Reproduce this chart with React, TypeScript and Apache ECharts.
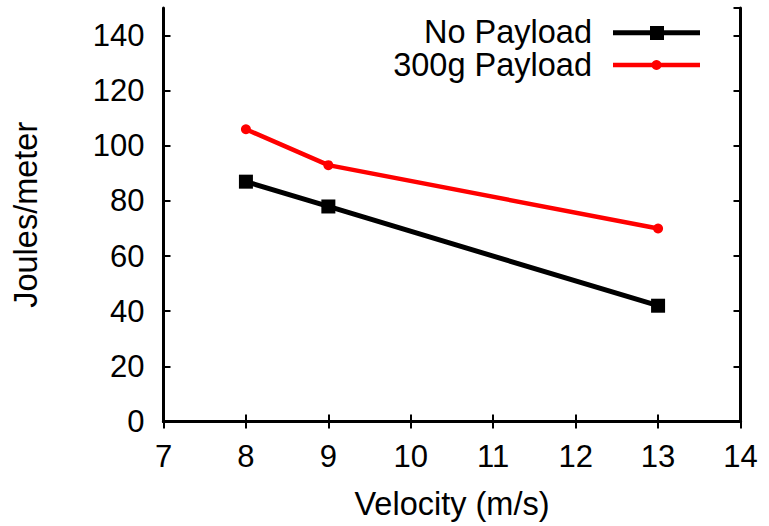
import React, { useEffect, useRef } from "react";
import * as echarts from "echarts";

const velocities = [8, 9, 13];
const noPayload = [87, 78, 42];
const payload300g = [106, 93, 70];
const seriesNames = ["No Payload", "300g Payload"];
const xTitle = "Velocity (m/s)";
const yTitle = "Joules/meter";

const FONT = "'Liberation Sans', Arial, sans-serif";

export default function App() {
  const ref = useRef<HTMLDivElement>(null);
  useEffect(() => {
    if (!ref.current) return;
    const chart = echarts.init(ref.current, undefined, { renderer: "svg" });
    const axisCommon = {
      type: "value" as const,
      axisLine: { show: true, lineStyle: { color: "#000", width: 3 } },
      axisTick: { show: true, inside: true, length: 7, lineStyle: { color: "#000", width: 2 } },
      splitLine: { show: false },
    };
    const labelStyle = { color: "#000", fontSize: 31, fontFamily: FONT };
    chart.setOption({
      animation: false,
      backgroundColor: "#fff",
      grid: { left: 163.5, right: 28.5, top: 8, bottom: 104.5, containLabel: false },
      xAxis: [
        {
          ...axisCommon,
          position: "bottom",
          min: 7,
          max: 14,
          interval: 1,
          axisLabel: { ...labelStyle, margin: 19 },
          name: xTitle,
          nameLocation: "middle",
          nameGap: 66,
          nameTextStyle: { color: "#000", fontSize: 32.5, fontFamily: FONT },
        },
        {
          ...axisCommon,
          position: "top",
          min: 7,
          max: 14,
          interval: 1,
          axisLabel: { show: false },
        },
      ],
      yAxis: [
        {
          ...axisCommon,
          position: "left",
          min: 0,
          max: 150,
          interval: 20,
          axisLabel: {
            ...labelStyle,
            margin: 19,
            showMaxLabel: false,
            formatter: (v: number) => (v > 140 ? "" : String(v)),
          },
          name: yTitle,
          nameLocation: "middle",
          nameGap: 121,
          nameRotate: 90,
          nameTextStyle: { color: "#000", fontSize: 32.5, fontFamily: FONT },
        },
        {
          ...axisCommon,
          position: "right",
          min: 0,
          max: 150,
          interval: 20,
          axisLabel: { show: false },
        },
      ],
      series: [
        {
          name: seriesNames[0],
          type: "line",
          data: velocities.map((v, i) => [v, noPayload[i]]),
          symbol: "rect",
          symbolSize: 14,
          lineStyle: { color: "#000", width: 5 },
          itemStyle: { color: "#000" },
          z: 3,
        },
        {
          name: seriesNames[1],
          type: "line",
          data: velocities.map((v, i) => [v, payload300g[i]]),
          symbol: "circle",
          symbolSize: 10,
          lineStyle: { color: "#ff0000", width: 4.5 },
          itemStyle: { color: "#ff0000" },
          z: 3,
        },
      ],
      graphic: [
        {
          type: "text",
          x: 592,
          y: 32,
          style: { text: seriesNames[0], fill: "#000", fontSize: 32.5, fontFamily: FONT, textAlign: "right", textVerticalAlign: "middle" },
        },
        { type: "line", shape: { x1: 613, y1: 32.7, x2: 700, y2: 32.7 }, style: { stroke: "#000", lineWidth: 5 } },
        { type: "rect", shape: { x: 650, y: 26, width: 14, height: 14 }, style: { fill: "#000" } },
        {
          type: "text",
          x: 592,
          y: 65,
          style: { text: seriesNames[1], fill: "#000", fontSize: 32.5, fontFamily: FONT, textAlign: "right", textVerticalAlign: "middle" },
        },
        { type: "line", shape: { x1: 613, y1: 65, x2: 700, y2: 65 }, style: { stroke: "#ff0000", lineWidth: 4.5 } },
        { type: "circle", shape: { cx: 656.5, cy: 65, r: 5 }, style: { fill: "#ff0000" } },
      ],
    });
    return () => chart.dispose();
  }, []);
  return <div ref={ref} style={{ width: 769, height: 526, position: "absolute", left: 0, top: 0 }} />;
}
